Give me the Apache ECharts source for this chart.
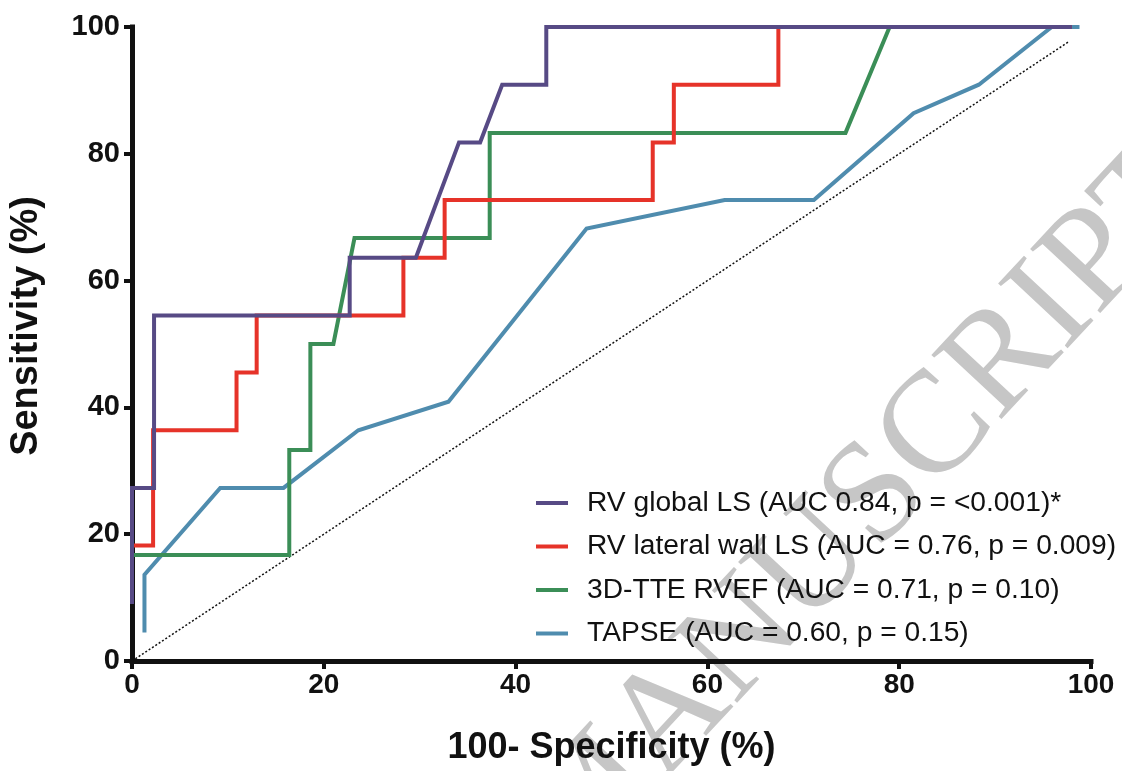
<!DOCTYPE html>
<html>
<head>
<meta charset="utf-8">
<script src="https://cdn.jsdelivr.net/npm/echarts@6/dist/echarts.min.js"></script>
<style>html,body{margin:0;padding:0;background:#fff;}#c{width:1122px;height:771px;}</style>
</head>
<body>
<div id="c"></div>
<script>
// ---- data ----
const xTicks = [0, 20, 40, 60, 80, 100];
const yTicks = [0, 20, 40, 60, 80, 100];
const seriesNames = [
  'RV global LS (AUC 0.84, p = <0.001)*',
  'RV lateral wall LS (AUC = 0.76, p = 0.009)',
  '3D-TTE RVEF (AUC = 0.71, p = 0.10)',
  'TAPSE (AUC = 0.60, p = 0.15)'
];
const rvGlobalLS = [[0,9],[0,27.3],[2.3,27.3],[2.3,54.5],[22.7,54.5],[22.7,63.6],[29.6,63.6],[34.1,81.8],[36.3,81.8],[38.6,90.9],[43.2,90.9],[43.2,100],[98,100]];
const rvLateralLS = [[0,18.2],[2.2,18.2],[2.2,36.4],[10.9,36.4],[10.9,45.5],[13.0,45.5],[13.0,54.5],[28.3,54.5],[28.3,63.6],[32.6,63.6],[32.6,72.7],[54.3,72.7],[54.3,81.8],[56.5,81.8],[56.5,90.9],[67.4,90.9],[67.4,100],[98,100]];
const rvef3D = [[0,16.7],[16.4,16.7],[16.4,33.3],[18.6,33.3],[18.6,50],[21.0,50],[23.2,66.7],[37.3,66.7],[37.3,83.3],[74.4,83.3],[79.0,100],[98,100]];
const tapse = [[1.3,4.5],[1.3,13.6],[9.2,27.3],[15.8,27.3],[23.6,36.4],[33.0,40.9],[47.4,68.2],[61.8,72.7],[71.1,72.7],[81.5,86.4],[88.3,90.9],[95.9,100],[98.8,100]];
const reference = [[0,0],[97.7,97.7]];
const xTitle = '100- Specificity (%)';
const yTitle = 'Sensitivity (%)';
const watermark = 'MANUSCRIPT';

const colors = ['#574a85', '#e63329', '#3b8e57', '#4f8cae'];
const seriesData = [rvGlobalLS, rvLateralLS, rvef3D, tapse];
const zs = [6, 5, 4, 3];

const chart = echarts.init(document.getElementById('c'), null, {renderer: 'canvas'});
const series = seriesData.map((d, i) => ({
  name: seriesNames[i],
  type: 'line',
  data: d,
  showSymbol: false,
  symbol: 'none',
  z: zs[i],
  color: colors[i],
  lineStyle: {width: 4, color: colors[i], cap: 'butt', join: 'miter'},
  emphasis: {disabled: true}
}));
series.push({
  name: 'ref',
  type: 'line',
  data: reference,
  showSymbol: false,
  symbol: 'none',
  z: 2,
  lineStyle: {width: 1.5, color: '#111', type: [2, 2]},
  emphasis: {disabled: true}
});

const axisCommon = {
  type: 'value',
  min: 0, max: 100, interval: 20,
  splitLine: {show: false},
  axisLine: {show: true, onZero: false, lineStyle: {color: '#111', width: 5, cap: 'square'}},
  axisTick: {show: true, inside: false, length: 8, lineStyle: {color: '#111', width: 4}},
};

chart.setOption({
  animation: false,
  backgroundColor: '#fff',
  grid: {left: 132, right: 31, top: 27, bottom: 108},
  xAxis: Object.assign({}, axisCommon, {
    axisLabel: {fontSize: 28, fontWeight: 'bold', color: '#111', fontFamily: 'Liberation Sans', margin: 10,
      formatter: v => xTicks.includes(v) ? String(v) : ''},
    name: xTitle, nameLocation: 'middle', nameGap: 69,
    nameTextStyle: {fontSize: 36, fontWeight: 'bold', color: '#111', fontFamily: 'Liberation Sans'}
  }),
  yAxis: Object.assign({}, axisCommon, {
    axisLabel: {fontSize: 29, fontWeight: 'bold', color: '#111', fontFamily: 'Liberation Sans', margin: 12,
      formatter: v => yTicks.includes(v) ? String(v) : ''},
    name: yTitle, nameLocation: 'middle', nameGap: 86,
    nameTextStyle: {fontSize: 38, fontWeight: 'bold', color: '#111', fontFamily: 'Liberation Sans', padding: [0, 0, 0, 36]}
  }),
  legend: {
    data: seriesNames,
    orient: 'vertical',
    left: 536, top: 487,
    padding: 0,
    icon: 'rect',
    itemWidth: 32, itemHeight: 4,
    itemGap: 11.5,
    selectedMode: false,
    textStyle: {fontSize: 28.2, color: '#111', fontFamily: 'Liberation Sans', lineHeight: 32, padding: [0,0,0,14]}
  },
  graphic: [{
    type: 'text',
    x: 600, y: 900,
    rotation: 47 * Math.PI / 180,
    z: 0,
    silent: true,
    style: {text: watermark, fontSize: 145, fontFamily: 'Liberation Serif', fill: '#c6c6c6', align: 'left', verticalAlign: 'bottom'}
  }],
  series: series
});
</script>
</body>
</html>
